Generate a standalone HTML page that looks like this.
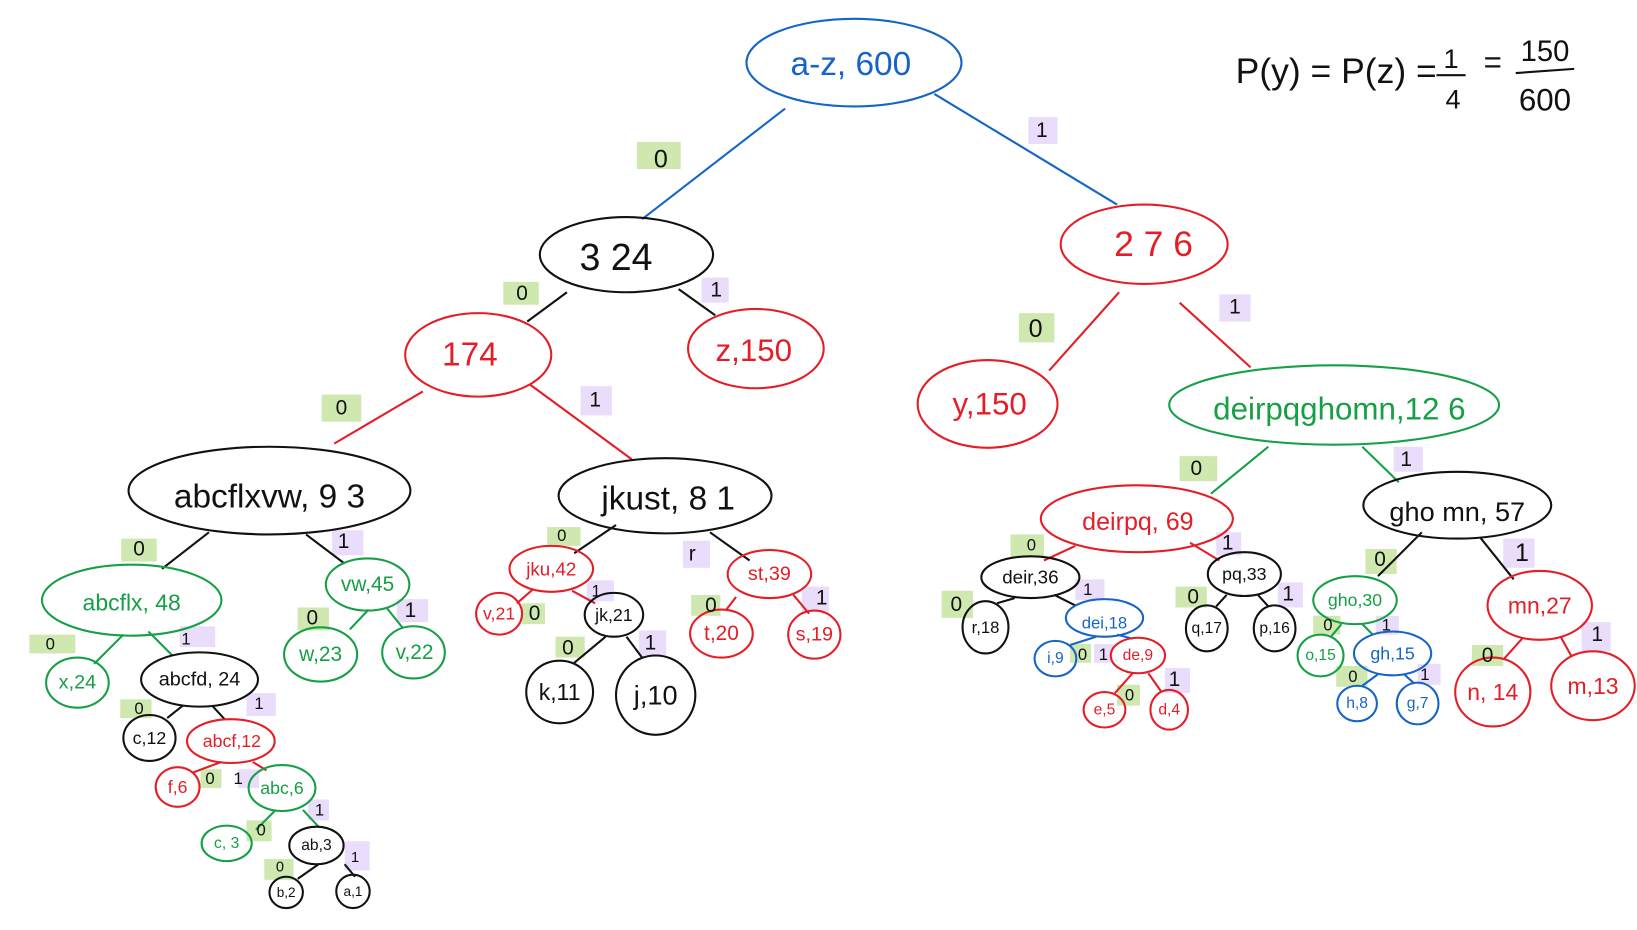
<!DOCTYPE html>
<html><head><meta charset="utf-8"><style>
html,body{margin:0;padding:0;background:#fff;}
svg{display:block}
text{font-family:"Liberation Sans",sans-serif;text-anchor:middle;dominant-baseline:central;}
.b{stroke:#1565c8}.r{stroke:#e41e26}.g{stroke:#16a045}.k{stroke:#111}
.tb{fill:#1565c8}.tr{fill:#e41e26}.tg{fill:#16a045}.tk{fill:#111}
ellipse,line{fill:none;stroke-width:2}
.hg{fill:#cfe8b0}.hp{fill:#e9ddfb}
</style></head><body>
<svg width="1637" height="930" viewBox="0 0 1568 891" xmlns="http://www.w3.org/2000/svg">
<!-- highlights -->
<rect class="hg" x="610" y="136" width="42" height="26"/><rect class="hp" x="985" y="112" width="28" height="26"/>
<rect class="hg" x="482" y="270" width="34" height="22"/><rect class="hp" x="672" y="266" width="26" height="24"/>
<rect class="hg" x="976" y="300" width="34" height="28"/><rect class="hp" x="1168" y="282" width="30" height="26"/>
<rect class="hg" x="308" y="378" width="38" height="26"/><rect class="hp" x="556" y="370" width="30" height="28"/>
<rect class="hg" x="1130" y="437" width="36" height="24"/><rect class="hp" x="1335" y="428" width="28" height="24"/>
<rect class="hg" x="116" y="516" width="34" height="22"/><rect class="hp" x="318" y="508" width="30" height="24"/>
<rect class="hg" x="524" y="505" width="32" height="18"/><rect class="hp" x="654" y="518" width="26" height="26"/>
<rect class="hg" x="968" y="512" width="32" height="22"/><rect class="hp" x="1165" y="510" width="24" height="22"/>
<rect class="hg" x="1308" y="526" width="30" height="24"/><rect class="hp" x="1440" y="516" width="30" height="28"/>
<rect class="hg" x="28" y="608" width="44" height="18"/><rect class="hp" x="172" y="600" width="34" height="20"/>
<rect class="hg" x="285" y="582" width="30" height="22"/><rect class="hp" x="380" y="574" width="30" height="22"/>
<rect class="hg" x="902" y="566" width="30" height="26"/><rect class="hp" x="1030" y="555" width="28" height="20"/>
<rect class="hg" x="1126" y="562" width="30" height="20"/><rect class="hp" x="1224" y="558" width="24" height="24"/>
<rect class="hg" x="662" y="570" width="28" height="20"/><rect class="hp" x="768" y="562" width="26" height="24"/>
<rect class="hg" x="500" y="578" width="22" height="20"/><rect class="hp" x="562" y="556" width="26" height="20"/>
<rect class="hg" x="532" y="610" width="28" height="20"/><rect class="hp" x="612" y="604" width="26" height="24"/>
<rect class="hg" x="115" y="670" width="30" height="18"/><rect class="hp" x="236" y="664" width="28" height="22"/>
<rect class="hg" x="1258" y="590" width="26" height="18"/><rect class="hp" x="1318" y="590" width="22" height="18"/>
<rect class="hg" x="1410" y="618" width="30" height="20"/><rect class="hp" x="1515" y="596" width="28" height="28"/>
<rect class="hg" x="1280" y="638" width="30" height="20"/><rect class="hp" x="1358" y="636" width="22" height="20"/>
<rect class="hg" x="192" y="737" width="20" height="18"/><rect class="hp" x="228" y="737" width="20" height="18"/>
<rect class="hg" x="1025" y="617" width="20" height="18"/><rect class="hp" x="1048" y="617" width="18" height="18"/>
<rect class="hg" x="1070" y="656" width="22" height="20"/><rect class="hp" x="1116" y="640" width="24" height="24"/>
<rect class="hg" x="236" y="786" width="24" height="20"/><rect class="hp" x="295" y="766" width="20" height="20"/>
<rect class="hg" x="253" y="823" width="28" height="20"/><rect class="hp" x="330" y="806" width="24" height="28"/>
<!-- edges -->
<line class="b" x1="752" y1="104" x2="615" y2="210"/><line class="b" x1="895" y1="90" x2="1070" y2="196"/>
<line class="k" x1="543" y1="280" x2="505" y2="308"/><line class="k" x1="650" y1="277" x2="685" y2="302"/>
<line class="r" x1="1072" y1="280" x2="1005" y2="355"/><line class="r" x1="1130" y1="290" x2="1198" y2="352"/>
<line class="r" x1="405" y1="375" x2="320" y2="425"/><line class="r" x1="507" y1="368" x2="605" y2="440"/>
<line class="g" x1="1215" y1="428" x2="1160" y2="473"/><line class="g" x1="1305" y1="428" x2="1340" y2="462"/>
<line class="k" x1="200" y1="510" x2="155" y2="545"/><line class="k" x1="293" y1="512" x2="330" y2="540"/>
<line class="k" x1="590" y1="503" x2="550" y2="530"/><line class="k" x1="680" y1="510" x2="718" y2="537"/>
<line class="r" x1="1030" y1="523" x2="1000" y2="537"/><line class="r" x1="1140" y1="520" x2="1168" y2="537"/>
<line class="k" x1="1362" y1="510" x2="1320" y2="552"/><line class="k" x1="1418" y1="515" x2="1450" y2="555"/>
<line class="g" x1="118" y1="608" x2="90" y2="636"/><line class="g" x1="142" y1="605" x2="165" y2="628"/>
<line class="g" x1="353" y1="584" x2="335" y2="603"/><line class="g" x1="370" y1="582" x2="386" y2="602"/>
<line class="r" x1="510" y1="565" x2="495" y2="578"/><line class="r" x1="548" y1="566" x2="570" y2="578"/>
<line class="r" x1="705" y1="572" x2="695" y2="585"/><line class="r" x1="760" y1="570" x2="775" y2="588"/>
<line class="k" x1="580" y1="610" x2="550" y2="635"/><line class="k" x1="600" y1="610" x2="615" y2="630"/>
<line class="k" x1="972" y1="573" x2="955" y2="578"/><line class="k" x1="1010" y1="570" x2="1030" y2="580"/>
<line class="k" x1="1175" y1="570" x2="1165" y2="581"/><line class="k" x1="1205" y1="570" x2="1215" y2="581"/>
<line class="g" x1="1285" y1="598" x2="1275" y2="610"/><line class="g" x1="1305" y1="598" x2="1315" y2="608"/>
<line class="r" x1="1458" y1="612" x2="1440" y2="632"/><line class="r" x1="1495" y1="610" x2="1505" y2="628"/>
<line class="k" x1="175" y1="676" x2="160" y2="688"/><line class="k" x1="203" y1="676" x2="215" y2="689"/>
<line class="r" x1="212" y1="730" x2="185" y2="740"/><line class="r" x1="242" y1="730" x2="255" y2="738"/>
<line class="b" x1="1050" y1="610" x2="1025" y2="618"/><line class="b" x1="1070" y1="608" x2="1085" y2="612"/>
<line class="r" x1="1085" y1="645" x2="1068" y2="664"/><line class="r" x1="1100" y1="645" x2="1112" y2="662"/>
<line class="b" x1="1320" y1="646" x2="1305" y2="657"/><line class="b" x1="1345" y1="646" x2="1355" y2="655"/>
<line class="g" x1="263" y1="777" x2="245" y2="795"/><line class="g" x1="290" y1="776" x2="305" y2="792"/>
<line class="k" x1="305" y1="828" x2="285" y2="842"/><line class="k" x1="330" y1="828" x2="340" y2="840"/>
<!-- nodes -->
<ellipse class="b" cx="818" cy="60" rx="103" ry="42"/><text x="815" y="62" font-size="32" class="tb">a-z, 600</text>
<ellipse class="k" cx="600" cy="244" rx="83" ry="36"/><text x="590" y="246" font-size="36" class="tk">3 24</text>
<ellipse class="r" cx="1096" cy="234" rx="80" ry="38"/><text x="1105" y="234" font-size="34" class="tr">2 7 6</text>
<ellipse class="r" cx="458" cy="340" rx="70" ry="40"/><text x="450" y="340" font-size="32" class="tr">174</text>
<ellipse class="r" cx="724" cy="334" rx="65" ry="38"/><text x="722" y="336" font-size="30" class="tr">z,150</text>
<ellipse class="r" cx="946" cy="387" rx="67" ry="42"/><text x="948" y="387" font-size="30" class="tr">y,150</text>
<ellipse class="g" cx="1278" cy="388" rx="158" ry="38"/><text x="1283" y="392" font-size="30" class="tg">deirpqghomn,12 6</text>
<ellipse class="k" cx="258" cy="470" rx="135" ry="42"/><text x="258" y="476" font-size="32" class="tk">abcflxvw, 9 3</text>
<ellipse class="k" cx="637" cy="475" rx="102" ry="36"/><text x="640" y="478" font-size="32" class="tk">jkust, 8 1</text>
<ellipse class="g" cx="126" cy="575" rx="86" ry="34"/><text x="126" y="577" font-size="22" class="tg">abcflx, 48</text>
<ellipse class="g" cx="352" cy="560" rx="40" ry="25"/><text x="352" y="560" font-size="20" class="tg">vw,45</text>
<ellipse class="r" cx="1089" cy="497" rx="92" ry="32"/><text x="1090" y="500" font-size="24" class="tr">deirpq, 69</text>
<ellipse class="k" cx="1396" cy="484" rx="90" ry="32"/><text x="1396" y="490" font-size="26" class="tk">gho mn, 57</text>
<ellipse class="g" cx="74" cy="654" rx="30" ry="24"/><text x="74" y="654" font-size="19" class="tg">x,24</text>
<ellipse class="k" cx="191" cy="651" rx="56" ry="26"/><text x="191" y="651" font-size="19" class="tk">abcfd, 24</text>
<ellipse class="g" cx="307" cy="627" rx="35" ry="26"/><text x="307" y="627" font-size="20" class="tg">w,23</text>
<ellipse class="g" cx="396" cy="625" rx="30" ry="25"/><text x="397" y="625" font-size="20" class="tg">v,22</text>
<ellipse class="r" cx="528" cy="545" rx="40" ry="22"/><text x="528" y="545" font-size="18" class="tr">jku,42</text>
<ellipse class="r" cx="737" cy="550" rx="40" ry="23"/><text x="737" y="550" font-size="19" class="tr">st,39</text>
<ellipse class="r" cx="478" cy="588" rx="22" ry="20"/><text x="478" y="588" font-size="17" class="tr">v,21</text>
<ellipse class="k" cx="588" cy="589" rx="28" ry="21"/><text x="588" y="589" font-size="17" class="tk">jk,21</text>
<ellipse class="r" cx="691" cy="607" rx="30" ry="23"/><text x="691" y="607" font-size="20" class="tr">t,20</text>
<ellipse class="r" cx="780" cy="608" rx="25" ry="23"/><text x="780" y="608" font-size="19" class="tr">s,19</text>
<ellipse class="k" cx="536" cy="663" rx="32" ry="30"/><text x="536" y="663" font-size="22" class="tk">k,11</text>
<ellipse class="k" cx="628" cy="666" rx="38" ry="38"/><text x="628" y="666" font-size="26" class="tk">j,10</text>
<ellipse class="k" cx="143" cy="707" rx="25" ry="22"/><text x="143" y="707" font-size="17" class="tk">c,12</text>
<ellipse class="r" cx="221" cy="710" rx="42" ry="21"/><text x="222" y="710" font-size="17" class="tr">abcf,12</text>
<ellipse class="r" cx="170" cy="754" rx="21" ry="19"/><text x="170" y="754" font-size="17" class="tr">f,6</text>
<ellipse class="g" cx="270" cy="755" rx="32" ry="22"/><text x="270" y="755" font-size="17" class="tg">abc,6</text>
<ellipse class="g" cx="217" cy="808" rx="24" ry="17"/><text x="217" y="808" font-size="15" class="tg">c, 3</text>
<ellipse class="k" cx="303" cy="810" rx="26" ry="18"/><text x="303" y="810" font-size="15" class="tk">ab,3</text>
<ellipse class="k" cx="274" cy="855" rx="16" ry="15"/><text x="274" y="855" font-size="13" class="tk">b,2</text>
<ellipse class="k" cx="338" cy="854" rx="16" ry="16"/><text x="338" y="854" font-size="13" class="tk">a,1</text>
<ellipse class="k" cx="987" cy="553" rx="47" ry="20"/><text x="987" y="553" font-size="18" class="tk">deir,36</text>
<ellipse class="k" cx="1192" cy="550" rx="35" ry="21"/><text x="1192" y="550" font-size="17" class="tk">pq,33</text>
<ellipse class="k" cx="944" cy="601" rx="22" ry="25"/><text x="944" y="601" font-size="16" class="tk">r,18</text>
<ellipse class="b" cx="1058" cy="592" rx="37" ry="18"/><text x="1058" y="597" font-size="16" class="tb">dei,18</text>
<ellipse class="k" cx="1156" cy="602" rx="20" ry="22"/><text x="1156" y="602" font-size="15" class="tk">q,17</text>
<ellipse class="k" cx="1221" cy="602" rx="20" ry="22"/><text x="1221" y="602" font-size="15" class="tk">p,16</text>
<ellipse class="b" cx="1011" cy="631" rx="20" ry="17"/><text x="1011" y="631" font-size="15" class="tb">i,9</text>
<ellipse class="r" cx="1090" cy="628" rx="26" ry="17"/><text x="1090" y="628" font-size="15" class="tr">de,9</text>
<ellipse class="r" cx="1058" cy="680" rx="20" ry="17"/><text x="1058" y="680" font-size="15" class="tr">e,5</text>
<ellipse class="r" cx="1120" cy="680" rx="18" ry="19"/><text x="1120" y="680" font-size="15" class="tr">d,4</text>
<ellipse class="g" cx="1298" cy="575" rx="40" ry="23"/><text x="1298" y="575" font-size="17" class="tg">gho,30</text>
<ellipse class="r" cx="1475" cy="580" rx="50" ry="33"/><text x="1475" y="580" font-size="22" class="tr">mn,27</text>
<ellipse class="g" cx="1265" cy="628" rx="22" ry="20"/><text x="1265" y="628" font-size="15" class="tg">o,15</text>
<ellipse class="b" cx="1334" cy="626" rx="37" ry="21"/><text x="1334" y="626" font-size="17" class="tb">gh,15</text>
<ellipse class="b" cx="1300" cy="674" rx="19" ry="17"/><text x="1300" y="674" font-size="15" class="tb">h,8</text>
<ellipse class="b" cx="1358" cy="674" rx="20" ry="20"/><text x="1358" y="674" font-size="15" class="tb">g,7</text>
<ellipse class="r" cx="1430" cy="663" rx="36" ry="33"/><text x="1430" y="663" font-size="22" class="tr">n, 14</text>
<ellipse class="r" cx="1526" cy="657" rx="40" ry="33"/><text x="1526" y="657" font-size="22" class="tr">m,13</text>
<!-- edge labels -->
<g class="tk" font-size="20">
<text x="633" y="153" font-size="24">0</text><text x="998" y="125">1</text>
<text x="500" y="281">0</text><text x="686" y="278">1</text>
<text x="992" y="315" font-size="24">0</text><text x="1183" y="294">1</text>
<text x="327" y="391">0</text><text x="570" y="383">1</text>
<text x="1146" y="449">0</text><text x="1347" y="440">1</text>
<text x="133" y="526">0</text><text x="329" y="519">1</text>
<text x="538" y="513" font-size="16">0</text><text x="663" y="531">r</text>
<text x="988" y="522" font-size="16">0</text><text x="1176" y="520">1</text>
<text x="1322" y="536">0</text><text x="1458" y="530" font-size="24">1</text>
<text x="48" y="617" font-size="16">0</text><text x="178" y="612" font-size="16">1</text>
<text x="299" y="592">0</text><text x="393" y="585">1</text>
<text x="916" y="579">0</text><text x="1042" y="565" font-size="16">1</text>
<text x="1143" y="572">0</text><text x="1234" y="569">1</text>
<text x="681" y="580">0</text><text x="787" y="573">1</text>
<text x="512" y="588">0</text><text x="571" y="566" font-size="16">1</text>
<text x="544" y="621">0</text><text x="623" y="616">1</text>
<text x="133" y="679" font-size="16">0</text><text x="248" y="674" font-size="16">1</text>
<text x="1272" y="599" font-size="16">0</text><text x="1328" y="599" font-size="16">1</text>
<text x="1425" y="628">0</text><text x="1530" y="608">1</text>
<text x="1296" y="648" font-size="16">0</text><text x="1365" y="646" font-size="16">1</text>
<text x="201" y="746" font-size="16">0</text><text x="228" y="746" font-size="16">1</text>
<text x="1037" y="627" font-size="16">0</text><text x="1057" y="627" font-size="16">1</text>
<text x="1082" y="666" font-size="16">0</text><text x="1125" y="651">1</text>
<text x="250" y="795" font-size="16">0</text><text x="306" y="776" font-size="16">1</text>
<text x="268" y="831" font-size="14">0</text><text x="340" y="822" font-size="14">1</text>
</g>
<!-- formula -->
<g class="tk">
<text x="1280" y="68" font-size="34">P(y) = P(z) =</text>
<text x="1390" y="56" font-size="26">1</text><line class="k" x1="1376" y1="72" x2="1404" y2="72"/><text x="1392" y="95" font-size="26">4</text>
<text x="1430" y="60" font-size="30">=</text>
<text x="1480" y="50" font-size="28">150</text><line class="k" x1="1452" y1="70" x2="1508" y2="66"/><text x="1480" y="96" font-size="30">600</text>
</g>
</svg>
</body></html>
